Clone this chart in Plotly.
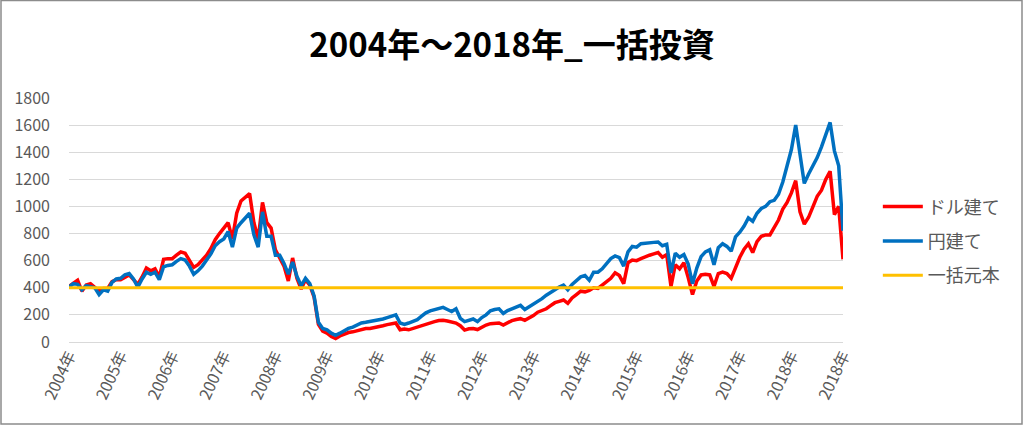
import plotly.graph_objects as go

# Category tick labels (one every 12 monthly samples)
tick_labels = ["2004年", "2005年", "2006年", "2007年", "2008年", "2009年", "2010年", "2011年",
               "2012年", "2013年", "2014年", "2015年", "2016年", "2017年", "2018年", "2018年"]

# ドル建て (dollar based), monthly samples
dollar = [
    410, 435, 455, 375, 420, 430, 405, 375, 395, 395, 445, 460,
    460, 480, 495, 460, 425, 480, 545, 525, 540, 480, 610, 615,
    615, 640, 665, 655, 600, 550, 570, 605, 640, 690, 755, 800,
    840, 880, 760, 950, 1040, 1070, 1095, 880, 760, 1030, 880, 840,
    680, 620, 560, 450, 620, 470, 390, 460, 420, 330, 130, 80,
    65, 40, 25, 45, 60, 70, 75, 85, 95, 100, 100, 105,
    110, 120, 128, 135, 140, 90, 95, 90, 100, 115, 125, 135,
    145, 150, 158, 160, 155, 150, 140, 120, 88, 98, 100, 92,
    110, 125, 135, 138, 140, 125, 145, 158, 166, 172, 160, 175,
    195, 220, 230, 245, 268, 290, 300, 310, 285, 325, 350, 375,
    370, 380, 400, 395, 420, 445, 470, 510, 490, 430, 585, 605,
    600, 615, 630, 640, 650, 660, 625, 645, 410, 570, 540, 585,
    475, 350, 450, 495, 500, 495, 410, 505, 515, 505, 470, 555,
    625, 685, 725, 660, 740, 780, 790, 790, 845, 900, 980, 1030,
    1100, 1190, 960, 870, 920, 1000, 1075, 1120, 1200, 1260, 940, 1000, 610,
]

# 円建て (yen based)
yen = [
    405, 430, 425, 385, 415, 405, 400, 350, 385, 375, 440, 465,
    470, 495, 505, 465, 405, 465, 515, 500, 515, 460, 555, 565,
    570, 595, 615, 605, 560, 500, 525, 560, 600, 650, 710, 740,
    760, 815, 700, 840, 880, 920, 950, 790, 700, 960, 780, 780,
    640, 640, 580, 500, 590, 485, 415, 470, 430, 340, 145, 100,
    90, 65, 50, 65, 85, 100, 110, 125, 140, 145, 150, 155,
    160, 170, 180, 190, 200, 140, 130, 140, 150, 165, 190, 215,
    230, 240, 250, 255, 240, 225, 245, 175, 150, 160, 170, 150,
    180, 200, 230, 240, 245, 210, 232, 245, 255, 270, 240, 260,
    280, 295, 320, 345, 365, 390, 405, 420, 385, 425, 450, 480,
    490, 455, 515, 515, 540, 575, 615, 635, 622, 560, 665, 705,
    700, 725, 730, 730, 735, 738, 710, 720, 510, 655, 625, 645,
    575, 430, 545, 630, 665, 680, 570, 695, 725, 705, 670, 775,
    810, 855, 915, 890, 950, 985, 1000, 1035, 1045, 1090, 1180, 1300,
    1420, 1600, 1390, 1170, 1240, 1300, 1360, 1440, 1540, 1620, 1410, 1300, 820,
]

# 一括元本 (lump-sum principal)
principal_value = 400

n = len(dollar)
x = list(range(n))
principal = [principal_value] * n
tick_positions = [i * 12 for i in range(len(tick_labels))]

FONT = "Noto Sans CJK JP"
GREY = "#595959"

fig = go.Figure()
fig.add_trace(go.Scatter(x=x, y=dollar, mode="lines", name="ドル建て",
                         line=dict(color="#FF0000", width=3.5), legendgroup="a"))
fig.add_trace(go.Scatter(x=x, y=yen, mode="lines", name="円建て",
                         line=dict(color="#0070C0", width=3.5), legendgroup="b"))
fig.add_trace(go.Scatter(x=x, y=principal, mode="lines", name="一括元本",
                         line=dict(color="#FFC000", width=3), legendgroup="c"))

fig.update_layout(
    width=1024, height=426,
    margin=dict(l=69, r=181, t=98, b=84),
    paper_bgcolor="white", plot_bgcolor="white",
    title=dict(text="<b>2004年～2018年_一括投資</b>", x=0.5, xanchor="center",
               xref="container", y=1 - 45 / 426, yanchor="middle", yref="container",
               font=dict(family=FONT, size=33, color="black")),
    showlegend=True,
    legend=dict(x=1.045, xanchor="left", y=0.63, yanchor="top",
                font=dict(family=FONT, size=18, color=GREY),
                itemwidth=40, tracegroupgap=8, bgcolor="rgba(0,0,0,0)"),
    xaxis=dict(range=[0, n - 1], tickmode="array", tickvals=tick_positions,
               ticktext=tick_labels, tickangle=-65, showgrid=False,
               showline=False, zeroline=False, ticks="",
               tickfont=dict(family=FONT, size=16, color=GREY)),
    yaxis=dict(range=[0, 1800], dtick=200, tick0=0, showgrid=True,
               gridcolor="#D9D9D9", gridwidth=1.3, zeroline=True,
               zerolinecolor="#D9D9D9", zerolinewidth=1.3, showline=False,
               ticks="", ticklabelstandoff=18,
               tickfont=dict(family=FONT, size=16, color=GREY)),
    shapes=[dict(type="rect", xref="paper", yref="paper",
                 x0=-68 / 774, x1=953 / 774, y0=-82 / 243.7, y1=341 / 243.7,
                 line=dict(color="#8C8C8C", width=1.5), fillcolor="rgba(0,0,0,0)",
                 layer="below")],
)

fig.write_html("out.html", config={"displayModeBar": False},
               post_script="document.body.style.margin='0';document.body.style.padding='0';")
